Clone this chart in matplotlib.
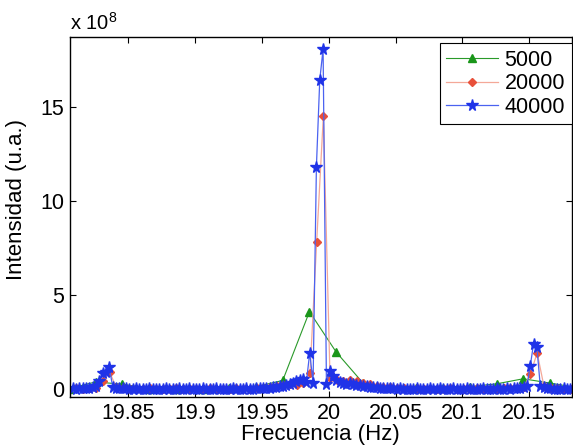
import numpy as np
import matplotlib
matplotlib.use("Agg")
import matplotlib.pyplot as plt

plt.rcParams['font.family'] = ['Liberation Sans', 'DejaVu Sans']
plt.rcParams['mathtext.fontset'] = 'custom'
plt.rcParams['mathtext.rm'] = 'Liberation Sans'
plt.rcParams['mathtext.it'] = 'Liberation Sans'

# ---- data (intensity in units of 1e8) ----
series_labels = ["5000", "20000", "40000"]

# frequency grids (FFT bins): start, step, count
green_f0, green_df, green_n = 19.8056, 0.02, 20
red_f0, red_df, red_n = 19.806, 0.005, 76
blue_f0, blue_df, blue_n = 19.8083, 0.0025, 150

green_vals = [0.05, 0.40, 0.28, 0.05, 0.04, 0.05, 0.08, 0.15, 0.48, 4.14,
              1.99, 0.35, 0.15, 0.10, 0.10, 0.15, 0.30, 0.57, 0.34, 0.10]

red_vals = [0.05, 0.06, 0.05, 0.07, 0.10,
            0.47, 0.93, 0.12, 0.07, 0.05,
            0.05, 0.04, 0.06, 0.05, 0.04, 0.05, 0.06, 0.04, 0.05, 0.05,
            0.04, 0.06, 0.05, 0.04, 0.05, 0.06, 0.05, 0.04, 0.06, 0.07,
            0.12, 0.18, 0.22, 0.30, 0.25, 0.35, 0.87,
            7.86, 14.55, 0.60, 0.50, 0.45, 0.50, 0.45, 0.35, 0.28, 0.20, 0.15, 0.12,
            0.08, 0.06, 0.05, 0.06, 0.04, 0.05, 0.05, 0.04, 0.06, 0.05,
            0.04, 0.05, 0.06, 0.05, 0.04, 0.05, 0.06, 0.07,
            0.10, 0.15, 0.82, 1.95, 0.20, 0.10,
            0.06, 0.05, 0.05]

blue_vals = [0.06, 0.05, 0.08, 0.06, 0.07, 0.09, 0.12,
             0.18, 0.45, 0.88, 0.95, 1.18, 0.15, 0.10, 0.08, 0.07, 0.06,
             0.05, 0.04, 0.06, 0.05, 0.04, 0.05, 0.06, 0.04, 0.05, 0.05,
             0.04, 0.06, 0.05, 0.04, 0.05, 0.06, 0.05, 0.04, 0.06, 0.05,
             0.05, 0.04, 0.06, 0.05, 0.04, 0.05, 0.06, 0.04, 0.05, 0.05,
             0.04, 0.06, 0.05, 0.04, 0.05, 0.06, 0.05, 0.04, 0.06, 0.07,
             0.08, 0.09, 0.10, 0.12, 0.15, 0.18, 0.20, 0.25,
             0.30, 0.35, 0.45, 0.50, 0.55, 0.40,
             1.95, 0.37, 11.85, 16.46, 18.11, 0.30, 1.00, 0.70, 0.50, 0.40,
             0.35, 0.30, 0.32, 0.28, 0.25, 0.22, 0.20, 0.18, 0.15, 0.13, 0.12,
             0.10, 0.09, 0.08, 0.07, 0.06, 0.05, 0.06, 0.04, 0.05, 0.05,
             0.04, 0.06, 0.05, 0.04, 0.05, 0.06, 0.05, 0.04, 0.06, 0.05,
             0.05, 0.04, 0.06, 0.05, 0.04, 0.05, 0.06, 0.04, 0.05, 0.05,
             0.04, 0.06, 0.05, 0.04, 0.05, 0.06, 0.05, 0.04, 0.06, 0.05,
             0.07, 0.06,
             0.10, 0.12, 0.18, 1.23, 2.43, 2.25, 0.20, 0.12, 0.10,
             0.06, 0.05, 0.05, 0.04, 0.06, 0.05, 0.05]

xticks = [19.85, 19.9, 19.95, 20.0, 20.05, 20.1, 20.15]
xtick_labels = ["19.85", "19.9", "19.95", "20", "20.05", "20.1", "20.15"]
yticks = [0, 5, 10, 15]
ytick_labels = ["0", "5", "10", "15"]

green_f = np.round(green_f0 + green_df * np.arange(green_n), 4)
red_f = np.round(red_f0 + red_df * np.arange(red_n), 4)
blue_f = np.round(blue_f0 + blue_df * np.arange(blue_n), 4)

fig = plt.figure(figsize=(5.73, 4.48), dpi=100)
ax = fig.add_axes([70/573, 1-397/448, (571.5-70)/573, (397-37)/448])

ax.plot(green_f, green_vals, '-', color='#2a9a2a', lw=0.8,
        marker='^', ms=6, mfc='#1a961a', mec='#1a961a', label=series_labels[0])
ax.plot(red_f, red_vals, '-', color='#f4a898', lw=0.9,
        marker='D', ms=3.6, mfc='#e8503a', mec='#e8503a', label=series_labels[1])
ax.plot(blue_f, blue_vals, '-', color='#4a62f0', lw=0.9,
        marker='*', ms=8.5, mfc='#1f33e8', mec='#1f33e8', label=series_labels[2])

ax.set_xlim(19.8064, 20.1817)
ax.set_ylim(-0.4, 18.75)
ax.set_xticks(xticks)
ax.set_xticklabels(xtick_labels)
ax.set_yticks(yticks)
ax.set_yticklabels(ytick_labels)
ax.tick_params(direction='in', top=True, right=True, length=4, width=0.8,
               labelsize=15.5, pad=4)
for s in ax.spines.values():
    s.set_linewidth(1.0)

ax.set_xlabel("Frecuencia (Hz)", fontsize=16, labelpad=0)
ax.set_ylabel("Intensidad (u.a.)", fontsize=16)
ax.yaxis.set_label_coords(-0.085, 0.55)
ax.text(0.0, 1.008, r"x 10$^{8}$", transform=ax.transAxes, ha='left', va='bottom',
        fontsize=14.5)

leg = ax.legend(loc='upper right', bbox_to_anchor=(1.0, 0.983), fontsize=15.5,
                frameon=True, fancybox=False, edgecolor='black', framealpha=1,
                borderaxespad=0, handlelength=2.4, handletextpad=0.3,
                labelspacing=0.12, borderpad=0.3)
leg.get_frame().set_linewidth(0.8)

fig.savefig("out.png", dpi=100)
